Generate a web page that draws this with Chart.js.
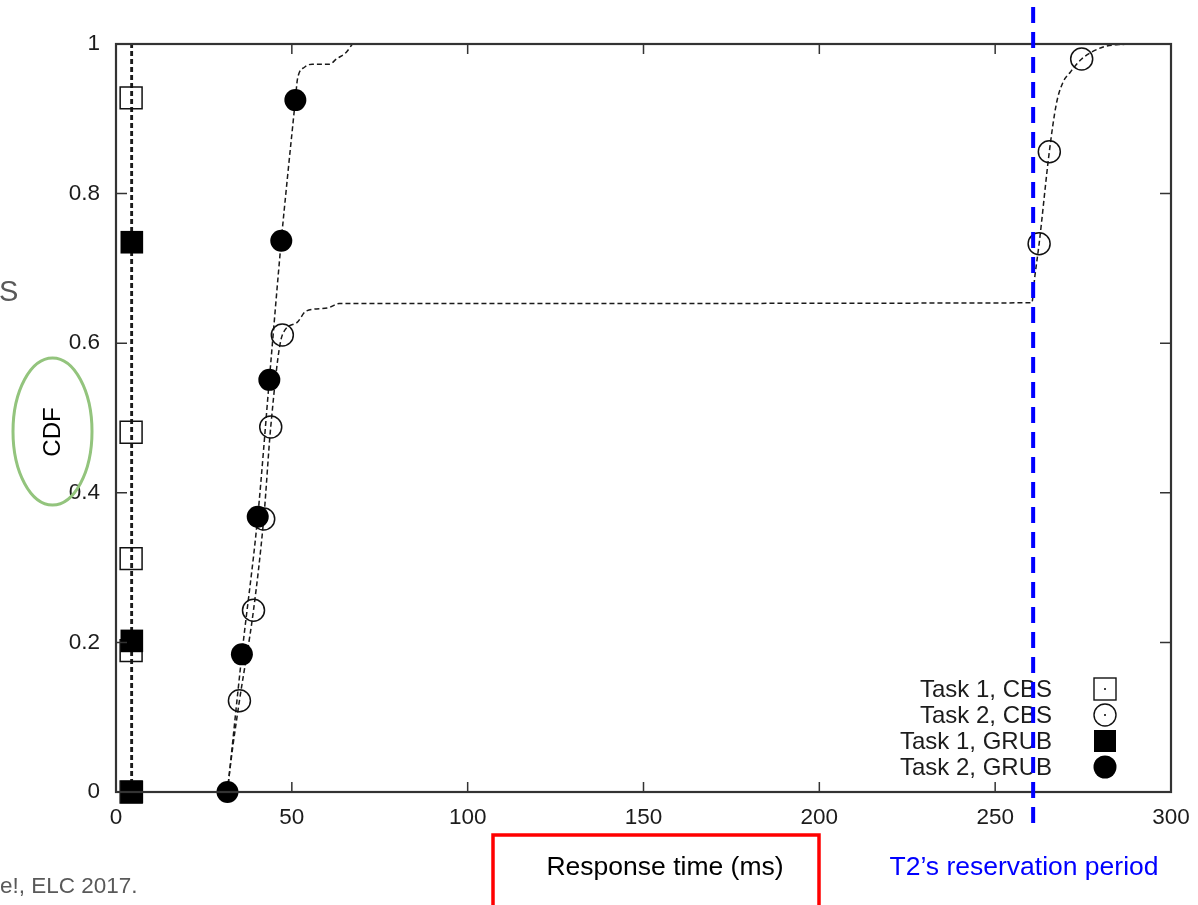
<!DOCTYPE html>
<html>
<head>
<meta charset="utf-8">
<script src="https://cdn.jsdelivr.net/npm/chart.js@4.4.1/dist/chart.umd.min.js"></script>
<style>
  html, body { margin: 0; padding: 0; background: #fff; }
  #wrap { width: 1198px; height: 905px; }
</style>
</head>
<body>
<div id="wrap"><canvas id="cdfChart" width="1198" height="905"></canvas></div>
<script>
/*
  Response time CDF, CBS vs GRUB (gnuplot figure on a slide).
*/
const xTicks = [0, 50, 100, 150, 200, 250, 300];
const yTicks = [0, 0.2, 0.4, 0.6, 0.8, 1];
const reservationPeriod = 260.8;

// dashed CDF curves, [ms, cdf]
const task1CbsLine = [[4.3, 0], [4.3, 0.189], [4.3, 0.312], [4.3, 0.481], [4.3, 0.928], [4.3, 1]];
const task1GrubLine = [[4.6, 0], [4.6, 0.202], [4.6, 0.735], [4.6, 1]];
const task2CbsLine = [
  [31.6, 0], [33.2, 0.06], [35.1, 0.122], [39.1, 0.243], [42.0, 0.365], [44.0, 0.488],
  [47.3, 0.611], [51.3, 0.627], [54.1, 0.643], [60.1, 0.647], [63.5, 0.653],
  [260.4, 0.654], [261.3, 0.69], [262.5, 0.733], [265.4, 0.856], [267.4, 0.92],
  [269.3, 0.949], [271.3, 0.962], [274.6, 0.98], [280.7, 0.996], [287.4, 1],
];
const task2GrubLine = [
  [31.7, 0], [35.8, 0.184], [40.3, 0.368], [43.6, 0.551], [47.0, 0.737], [48.7, 0.819],
  [51.0, 0.925], [51.6, 0.953], [53.6, 0.969], [55.8, 0.973], [60.7, 0.973],
  [62.7, 0.98], [65.5, 0.989], [67.2, 1],
];

// plotted markers
const task1CbsPoints = [[4.3, 0], [4.3, 0.189], [4.3, 0.312], [4.3, 0.481], [4.3, 0.928]];
const task1GrubPoints = [[4.5, 0], [4.5, 0.202], [4.5, 0.735]];
const task2CbsPoints = [[35.1, 0.122], [39.1, 0.243], [42.0, 0.365], [44.0, 0.488], [47.3, 0.611], [262.5, 0.733], [265.4, 0.856], [274.6, 0.98]];
const task2GrubPoints = [[31.7, 0], [35.8, 0.184], [40.3, 0.368], [43.6, 0.551], [47.0, 0.737], [51.0, 0.925]];

const legendLabels = ["Task 1, CBS", "Task 2, CBS", "Task 1, GRUB", "Task 2, GRUB"];

const FONT = "'Liberation Sans', Arial, sans-serif";

function toXY(pairs) {
  return pairs.map(([x, y]) => ({ x, y }));
}

function lineSet(pairs, smooth, width) {
  return {
    data: toXY(pairs),
    showLine: true,
    borderColor: "#1a1a1a",
    borderWidth: width || 1.5,
    borderDash: [5, 3],
    pointRadius: 0,
    cubicInterpolationMode: smooth ? "monotone" : "default",
    tension: 0,
    clip: false,
  };
}

function markerSet(pairs, style, radius, filled) {
  return {
    data: toXY(pairs),
    showLine: false,
    pointStyle: style,
    pointRadius: radius,
    pointHoverRadius: radius,
    pointBackgroundColor: filled ? "#000" : "rgba(0,0,0,0)",
    pointBorderColor: "#111",
    pointBorderWidth: filled ? 0 : 1.5,
    clip: false,
  };
}

const slidePlugin = {
  id: "slideDecor",
  afterDraw(chart) {
    const { ctx, chartArea: a, scales } = chart;
    const xs = scales.x;
    const ys = scales.y;
    ctx.save();

    // frame + inward ticks on all four sides
    ctx.strokeStyle = "#333";
    ctx.lineWidth = 2.2;
    ctx.strokeRect(a.left, a.top, a.right - a.left, a.bottom - a.top);
    ctx.lineWidth = 1.5;
    ctx.beginPath();
    xTicks.slice(1, -1).forEach((v) => {
      const px = xs.getPixelForValue(v);
      ctx.moveTo(px, a.bottom); ctx.lineTo(px, a.bottom - 10);
      ctx.moveTo(px, a.top); ctx.lineTo(px, a.top + 10);
    });
    yTicks.slice(1, -1).forEach((v) => {
      const py = ys.getPixelForValue(v);
      ctx.moveTo(a.left, py); ctx.lineTo(a.left + 11, py);
      ctx.moveTo(a.right, py); ctx.lineTo(a.right - 11, py);
    });
    ctx.stroke();

    // legend (text right aligned, symbol on the right)
    const rows = [689, 715, 741, 767];
    const symX = 1105;
    ctx.font = `24px ${FONT}`;
    ctx.fillStyle = "#1c1c1c";
    ctx.textAlign = "right";
    ctx.textBaseline = "middle";
    legendLabels.forEach((label, i) => {
      ctx.fillText(label, 1052, rows[i] + 1);
    });
    ctx.strokeStyle = "#111";
    ctx.fillStyle = "#000";
    ctx.lineWidth = 1.4;
    ctx.strokeRect(symX - 11, rows[0] - 11, 22, 22);
    ctx.beginPath(); ctx.arc(symX, rows[0], 1, 0, Math.PI * 2); ctx.fill();
    ctx.beginPath(); ctx.arc(symX, rows[1], 11, 0, Math.PI * 2); ctx.stroke();
    ctx.beginPath(); ctx.arc(symX, rows[1], 1, 0, Math.PI * 2); ctx.fill();
    ctx.fillRect(symX - 11, rows[2] - 11, 22, 22);
    ctx.beginPath(); ctx.arc(symX, rows[3], 11.5, 0, Math.PI * 2); ctx.fill();

    // axis titles
    ctx.fillStyle = "#000";
    ctx.font = `26.5px ${FONT}`;
    ctx.textAlign = "center";
    ctx.fillText("Response time (ms)", 665, 868);
    ctx.save();
    ctx.translate(53, 432);
    ctx.rotate(-Math.PI / 2);
    ctx.font = `24px ${FONT}`;
    ctx.fillText("CDF", 0, 0);
    ctx.restore();

    // green ellipse around the y title
    ctx.strokeStyle = "#93c47d";
    ctx.lineWidth = 3;
    ctx.beginPath();
    ctx.ellipse(52.5, 431.5, 39.5, 73.5, 0, 0, Math.PI * 2);
    ctx.stroke();

    // red box around the x title
    ctx.strokeStyle = "#ff0000";
    ctx.lineWidth = 3.5;
    ctx.beginPath();
    ctx.moveTo(493, 910);
    ctx.lineTo(493, 835);
    ctx.lineTo(819, 835);
    ctx.lineTo(819, 910);
    ctx.stroke();

    // reservation period marker
    const rx = xs.getPixelForValue(reservationPeriod);
    ctx.strokeStyle = "#0000ff";
    ctx.lineWidth = 4;
    ctx.setLineDash([16, 9]);
    ctx.beginPath();
    ctx.moveTo(rx, 7);
    ctx.lineTo(rx, 830);
    ctx.stroke();
    ctx.setLineDash([]);
    ctx.fillStyle = "#0000ff";
    ctx.font = `26.5px ${FONT}`;
    ctx.fillText("T2\u2019s reservation period", 1024, 868);

    // slide fragments
    ctx.fillStyle = "#595959";
    ctx.textAlign = "left";
    ctx.font = `29px ${FONT}`;
    ctx.fillText("S", -1, 293);
    ctx.font = `22.5px ${FONT}`;
    ctx.fillText("e!, ELC 2017.", 0, 887);

    ctx.restore();
  },
};

new Chart(document.getElementById("cdfChart"), {
  type: "scatter",
  data: {
    datasets: [
      markerSet(task2GrubPoints, "circle", 11, true),
      markerSet(task1GrubPoints, "rect", 16, true),
      markerSet(task2CbsPoints, "circle", 11, false),
      markerSet(task1CbsPoints, "rect", 15.5, false),
      lineSet(task1CbsLine, false, 1.8),
      lineSet(task1GrubLine, false, 1.8),
      lineSet(task2CbsLine, true),
      lineSet(task2GrubLine, true),
    ],
  },
  options: {
    responsive: false,
    animation: false,
    layout: { padding: { left: 0, top: 44, right: 27, bottom: 0 } },
    plugins: {
      legend: { display: false },
      tooltip: { enabled: false },
    },
    scales: {
      x: {
        type: "linear",
        min: 0,
        max: 300,
        afterFit: (s) => { s.height = 113; s.paddingLeft = 0; s.paddingRight = 0; },
        afterBuildTicks: (s) => { s.ticks = xTicks.map((value) => ({ value })); },
        grid: { display: false, drawTicks: false },
        border: { display: false },
        ticks: { padding: 12, color: "#1c1c1c", font: { family: FONT, size: 22.5 } },
      },
      y: {
        type: "linear",
        min: 0,
        max: 1,
        afterFit: (s) => { s.width = 116; s.paddingTop = 0; s.paddingBottom = 0; },
        afterBuildTicks: (s) => { s.ticks = yTicks.map((value) => ({ value })); },
        grid: { display: false, drawTicks: false },
        border: { display: false },
        ticks: {
          padding: 16,
          color: "#1c1c1c",
          font: { family: FONT, size: 22.5 },
          callback: (value) => String(Math.round(value * 10) / 10),
        },
      },
    },
  },
  plugins: [slidePlugin],
});
</script>
</body>
</html>
